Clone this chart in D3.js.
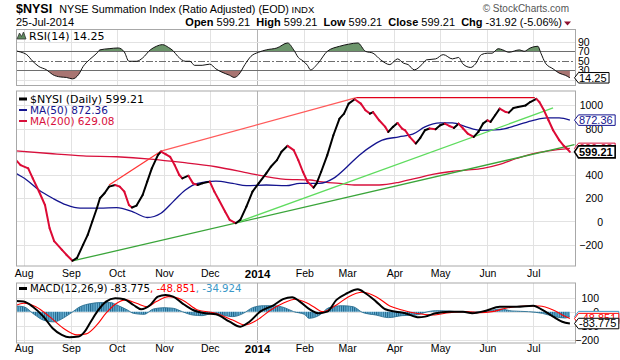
<!DOCTYPE html>
<html><head><meta charset="utf-8">
<script src="https://cdn.jsdelivr.net/npm/d3@7/dist/d3.min.js"></script>
<style>html,body{margin:0;padding:0;background:#fff;overflow:hidden}</style>
</head><body>
<svg id="chart" width="620" height="360"></svg>
<script>
// ---------------- DATA ----------------
const monthTicks = ["2013-08-01","2013-09-01","2013-10-01","2013-11-01","2013-12-01","2014-01-01","2014-02-01","2014-03-01","2014-04-01","2014-05-01","2014-06-01","2014-07-01"];
const monthLabels = ["Aug","Sep","Oct","Nov","Dec","2014","Feb","Mar","Apr","May","Jun","Jul"];
const mainTicks = [-200,0,200,400,600,800,1000];
const rsiTicks = [30,50,70,90];
const macdTicks = [100,0,-100,-200];

const nysi = [["2013-07-27",528],["2013-07-30",485],["2013-08-04",457],["2013-08-07",371],["2013-08-11",260],["2013-08-15",142],["2013-08-18",-57],["2013-08-21",-169],["2013-08-26",-243],["2013-08-29",-286],["2013-09-02",-338],["2013-09-05",-314],["2013-09-09",-200],["2013-09-12",-115],["2013-09-15",0],["2013-09-18",114],["2013-09-20",200],["2013-09-23",243],["2013-09-26",300],["2013-09-30",314],["2013-10-03",300],["2013-10-06",257],["2013-10-09",142],["2013-10-11",120],["2013-10-14",137],["2013-10-18",228],["2013-10-21",343],["2013-10-24",457],["2013-10-28",571],["2013-10-30",602],["2013-11-02",580],["2013-11-05",557],["2013-11-08",485],["2013-11-11",400],["2013-11-13",371],["2013-11-17",394],["2013-11-20",328],["2013-11-23",314],["2013-11-26",328],["2013-12-01",343],["2013-12-04",257],["2013-12-07",185],["2013-12-11",86],["2013-12-14",14],["2013-12-18",-15],["2013-12-21",14],["2013-12-25",128],["2013-12-29",257],["2014-01-02",328],["2014-01-07",414],["2014-01-10",471],["2014-01-14",528],["2014-01-17",600],["2014-01-21",651],["2014-01-25",614],["2014-01-28",528],["2014-01-31",428],["2014-02-03",343],["2014-02-07",291],["2014-02-09",328],["2014-02-12",428],["2014-02-16",571],["2014-02-20",742],["2014-02-24",885],["2014-02-27",928],["2014-03-02",1014],["2014-03-06",1052],["2014-03-10",1014],["2014-03-13",957],["2014-03-16",928],["2014-03-18",942],["2014-03-22",871],["2014-03-26",814],["2014-03-28",771],["2014-03-31",814],["2014-04-03",848],["2014-04-06",800],["2014-04-08",785],["2014-04-11",728],["2014-04-15",671],["2014-04-18",720],["2014-04-21",785],["2014-04-24",800],["2014-04-28",794],["2014-05-01",828],["2014-05-04",842],["2014-05-07",822],["2014-05-10",805],["2014-05-13",842],["2014-05-16",800],["2014-05-19",757],["2014-05-23",728],["2014-05-26",771],["2014-05-29",842],["2014-06-01",871],["2014-06-03",857],["2014-06-06",914],["2014-06-09",971],["2014-06-13",942],["2014-06-15",937],["2014-06-18",977],["2014-06-21",985],["2014-06-26",999],["2014-06-29",1028],["2014-07-03",1055],["2014-07-05",1028],["2014-07-08",957],["2014-07-11",871],["2014-07-14",785],["2014-07-18",700],["2014-07-21",651],["2014-07-23",628],["2014-07-25",599.21]];

const ma50 = [["2013-07-27",414],["2013-08-03",357],["2013-08-11",271],["2013-08-20",200],["2013-08-29",142],["2013-09-07",114],["2013-09-20",114],["2013-10-01",120],["2013-10-12",80],["2013-10-21",34],["2013-10-30",71],["2013-11-07",171],["2013-11-15",271],["2013-11-23",328],["2013-12-05",348],["2013-12-16",328],["2013-12-25",308],["2014-01-07",314],["2014-01-20",308],["2014-01-29",328],["2014-02-11",328],["2014-02-20",371],["2014-03-01",471],["2014-03-09",571],["2014-03-18",657],["2014-03-24",700],["2014-04-04",728],["2014-04-13",751],["2014-04-21",814],["2014-05-01",848],["2014-05-09",848],["2014-05-18",814],["2014-05-27",785],["2014-06-09",791],["2014-06-20",828],["2014-07-01",871],["2014-07-10",891],["2014-07-18",891],["2014-07-25",872.36]];

const ma200 = [["2013-07-27",608],["2013-08-18",585],["2013-09-09",565],["2013-10-01",557],["2013-10-23",537],["2013-11-13",508],["2013-12-05",471],["2013-12-27",414],["2014-01-07",386],["2014-01-18",365],["2014-02-05",357],["2014-02-11",343],["2014-02-24",328],["2014-03-07",314],["2014-03-22",314],["2014-04-04",337],["2014-04-15",371],["2014-04-26",405],["2014-05-07",428],["2014-05-18",442],["2014-05-29",457],["2014-06-09",491],["2014-06-20",542],["2014-07-01",585],["2014-07-11",608],["2014-07-25",629.08]];

const trendRed1 = [["2013-09-26",314],["2013-10-30",605]];
const trendRed2 = [["2013-10-30",605],["2014-03-07",1066]];
const trendRedFlat = [["2014-03-07",1066],["2014-07-02",1066]];
const trendGreenLow = [["2013-09-02",-340],["2014-07-28",662]];
const trendGreenHigh = [["2013-12-18",-12],["2014-07-14",977]];

const rsi = [["2013-07-27",71],["2013-07-30",68.5],["2013-08-03",63],["2013-08-07",49],["2013-08-11",38],["2013-08-16",31],["2013-08-20",21],["2013-08-25",16],["2013-08-29",15],["2013-09-02",12],["2013-09-06",21],["2013-09-09",38],["2013-09-13",52],["2013-09-18",66],["2013-09-20",73],["2013-09-26",75.5],["2013-10-02",77],["2013-10-06",68.5],["2013-10-09",49],["2013-10-14",49],["2013-10-18",56],["2013-10-23",73],["2013-10-27",80.5],["2013-10-31",84],["2013-11-04",78],["2013-11-07",71],["2013-11-10",59.5],["2013-11-15",49],["2013-11-18",49],["2013-11-21",40.5],["2013-11-26",40.5],["2013-12-01",43],["2013-12-05",33],["2013-12-09",26],["2013-12-14",19.5],["2013-12-17",15],["2013-12-20",21],["2013-12-24",42],["2013-12-28",59.5],["2014-01-02",68],["2014-01-07",73],["2014-01-14",77],["2014-01-21",87.5],["2014-01-25",73],["2014-01-28",57],["2014-01-31",50],["2014-02-03",40.5],["2014-02-05",31],["2014-02-10",45],["2014-02-16",70],["2014-02-24",80.5],["2014-03-02",85],["2014-03-08",87.5],["2014-03-13",70],["2014-03-18",66],["2014-03-23",52],["2014-03-29",42],["2014-04-03",54],["2014-04-07",45],["2014-04-10",42],["2014-04-14",31],["2014-04-19",42],["2014-04-22",52],["2014-04-28",54],["2014-05-03",63],["2014-05-09",54],["2014-05-13",57],["2014-05-16",43],["2014-05-21",36],["2014-05-24",43],["2014-05-28",63],["2014-06-01",66],["2014-06-04",66],["2014-06-08",75.5],["2014-06-11",73],["2014-06-15",68],["2014-06-22",73],["2014-06-25",70],["2014-06-29",77],["2014-07-04",80.5],["2014-07-06",66],["2014-07-09",45],["2014-07-14",33],["2014-07-18",24],["2014-07-22",19.5],["2014-07-25",14.25]];

const macd = [["2013-07-27",75],["2013-08-01",71],["2013-08-07",35],["2013-08-14",-35],["2013-08-20",-117],["2013-08-26",-164],["2013-08-31",-181],["2013-09-06",-176],["2013-09-10",-141],["2013-09-14",-71],["2013-09-19",12],["2013-09-24",71],["2013-09-30",95],["2013-10-06",88],["2013-10-12",47],["2013-10-17",17],["2013-10-23",47],["2013-10-28",106],["2013-11-02",118],["2013-11-07",106],["2013-11-13",59],["2013-11-20",12],["2013-11-28",-11],["2013-12-05",-18],["2013-12-14",-71],["2013-12-21",-106],["2013-12-27",-71],["2014-01-03",0],["2014-01-12",47],["2014-01-18",88],["2014-01-24",102],["2014-01-29",71],["2014-02-05",12],["2014-02-10",-11],["2014-02-16",0],["2014-02-22",83],["2014-03-01",130],["2014-03-08",158],["2014-03-13",130],["2014-03-20",71],["2014-03-26",17],["2014-04-02",0],["2014-04-08",-11],["2014-04-17",-40],["2014-04-21",-35],["2014-04-28",-11],["2014-05-07",0],["2014-05-16",0],["2014-05-22",-11],["2014-05-31",7],["2014-06-09",35],["2014-06-20",35],["2014-07-01",42],["2014-07-07",12],["2014-07-14",-35],["2014-07-20",-71],["2014-07-25",-83.775]];

const signal = [["2013-07-27",45],["2013-08-01",59],["2013-08-09",35],["2013-08-18",-35],["2013-08-27",-117],["2013-09-05",-164],["2013-09-11",-157],["2013-09-18",-94],["2013-09-24",-11],["2013-10-01",59],["2013-10-07",83],["2013-10-14",59],["2013-10-21",35],["2013-10-27",71],["2013-11-04",106],["2013-11-13",83],["2013-11-23",12],["2013-12-05",-11],["2013-12-16",-59],["2013-12-24",-94],["2014-01-01",-59],["2014-01-10",12],["2014-01-18",59],["2014-01-26",88],["2014-02-03",59],["2014-02-07",35],["2014-02-13",0],["2014-02-22",47],["2014-03-02",106],["2014-03-11",137],["2014-03-20",106],["2014-03-29",40],["2014-04-06",12],["2014-04-15",-11],["2014-04-26",-23],["2014-05-07",-7],["2014-05-18",0],["2014-05-27",-7],["2014-06-04",0],["2014-06-13",24],["2014-06-26",40],["2014-07-05",40],["2014-07-14",12],["2014-07-20",-23],["2014-07-25",-48.851]];

const hist = [["2013-07-27",40],["2013-08-01",35],["2013-08-08",-20],["2013-08-14",-60],["2013-08-21",-72],["2013-08-27",-45],["2013-09-01",-10],["2013-09-07",35],["2013-09-14",57],["2013-09-20",64],["2013-09-27",64],["2013-10-01",47],["2013-10-08",12],["2013-10-12",-12],["2013-10-19",-19],["2013-10-25",19],["2013-11-01",28],["2013-11-07",24],["2013-11-13",0],["2013-11-20",-24],["2013-11-26",-28],["2013-12-03",-12],["2013-12-09",-24],["2013-12-16",-35],["2013-12-23",-12],["2013-12-29",28],["2014-01-05",42],["2014-01-12",42],["2014-01-19",28],["2014-01-25",0],["2014-02-01",-19],["2014-02-04",-47],["2014-02-11",-24],["2014-02-17",28],["2014-02-26",42],["2014-03-05",35],["2014-03-11",-5],["2014-03-20",-24],["2014-03-28",-42],["2014-04-06",-28],["2014-04-15",-24],["2014-04-23",0],["2014-04-28",7],["2014-05-06",5],["2014-05-19",-5],["2014-06-01",5],["2014-06-10",19],["2014-06-17",5],["2014-06-28",0],["2014-07-07",-12],["2014-07-15",-35],["2014-07-22",-45],["2014-07-25",-34.924]];

// ---------------- SETUP ----------------
const parse = d3.timeParse("%Y-%m-%d");
const pts = arr => arr.map(d => ({date: parse(d[0]), v: d[1]}));
const svg = d3.select("#chart");
const defs = svg.append("defs");
const AX = "'Liberation Sans', Arial, sans-serif";
const LG = "'DejaVu Sans', Verdana, sans-serif";
const L = 16, R = 576;
const P = {rsi: [29.5, 85.5], main: [91, 266], macd: [283, 343]};

const X = d3.scaleTime().domain([parse("2013-07-27"), parse("2014-07-29")]).range([L, R]);
const yR = d3.scaleLinear().domain([30, 70]).range([70.3, 51.3]);
const yM = d3.scaleLinear().domain([-200, 1000]).range([244.7, 105.3]);
const yD = d3.scaleLinear().domain([-200, 100]).range([340, 297.5]);

svg.append("rect").attr("width", 620).attr("height", 360).attr("fill", "#fff");

function panel(name, yscale, hTicks) {
  const [t, b] = P[name];
  defs.append("clipPath").attr("id", "clip-" + name).append("rect")
    .attr("x", L).attr("y", t).attr("width", R - L).attr("height", b - t);
  const g = svg.append("g");
  g.selectAll(".vg").data(monthTicks).enter().append("line")
    .attr("x1", d => Math.round(X(parse(d))) + 0.5).attr("x2", d => Math.round(X(parse(d))) + 0.5)
    .attr("y1", t).attr("y2", b)
    .attr("stroke", (d, i) => monthLabels[i] === "2014" ? "#b4b4b4" : "#e2e2e2").attr("stroke-width", 1);
  g.selectAll(".hg").data(hTicks).enter().append("line")
    .attr("x1", L).attr("x2", R)
    .attr("y1", d => Math.round(yscale(d)) + 0.5).attr("y2", d => Math.round(yscale(d)) + 0.5)
    .attr("stroke", "#e2e2e2");
  const inner = svg.append("g").attr("clip-path", `url(#clip-${name})`);
  return {g, inner, t, b};
}

// ---------------- HEADER ----------------
const title = svg.append("text").attr("x", 16).attr("y", 12.5).attr("font-family", AX).attr("xml:space", "preserve");
title.append("tspan").attr("font-size", 12.5).attr("font-weight", "bold").text("$NYSI");
title.append("tspan").attr("font-size", 10.8).attr("dx", 4).text(" NYSE Summation Index (Ratio Adjusted) (EOD)");
title.append("tspan").attr("font-size", 9.5).text(" INDX");
svg.append("text").attr("x", 569).attr("y", 11.5).attr("text-anchor", "end").attr("font-family", AX)
  .attr("font-size", 10).attr("fill", "#555").text("\u00A9 StockCharts.com");
svg.append("text").attr("x", 16).attr("y", 26).attr("font-family", AX).attr("font-size", 11).text("25-Jul-2014");
const ohlc = [["Open", "599.21"], ["High", "599.21"], ["Low", "599.21"], ["Close", "599.21"], ["Chg", "-31.92 (-5.06%)"]];
const oh = svg.append("text").attr("x", 562).attr("y", 26).attr("text-anchor", "end").attr("font-family", AX)
  .attr("font-size", 11).attr("xml:space", "preserve").style("white-space", "pre");
ohlc.forEach(([lab, val], i) => {
  oh.append("tspan").attr("font-weight", "bold").text((i ? "  " : "") + lab);
  oh.append("tspan").text(" " + val);
});
svg.append("path").attr("d", "M564,21.5 L571,21.5 L567.5,25.5 Z").attr("fill", "#8b1030");

// ---------------- RSI PANEL ----------------
const rsiP = panel("rsi", yR, [10, 90]);
const rsiPts = pts(rsi);
defs.append("clipPath").attr("id", "rsiTop").append("rect").attr("x", L).attr("y", rsiP.t).attr("width", R - L).attr("height", yR(70) - rsiP.t);
defs.append("clipPath").attr("id", "rsiBot").append("rect").attr("x", L).attr("y", yR(30)).attr("width", R - L).attr("height", rsiP.b - yR(30));
rsiP.inner.append("path").datum(rsiPts).attr("clip-path", "url(#rsiTop)")
  .attr("d", d3.area().x(d => X(d.date)).y0(yR(70)).y1(d => yR(d.v)).curve(d3.curveMonotoneX))
  .attr("fill", "#6c956b");
rsiP.inner.append("path").datum(rsiPts).attr("clip-path", "url(#rsiBot)")
  .attr("d", d3.area().x(d => X(d.date)).y0(yR(30)).y1(d => yR(d.v)).curve(d3.curveMonotoneX))
  .attr("fill", "#a87572");
[70, 30].forEach(v => rsiP.inner.append("line").attr("x1", L).attr("x2", R)
  .attr("y1", Math.round(yR(v)) + 0.5).attr("y2", Math.round(yR(v)) + 0.5).attr("stroke", "#6e6e6e"));
rsiP.inner.append("line").attr("x1", L).attr("x2", R).attr("y1", Math.round(yR(50)) + 0.5).attr("y2", Math.round(yR(50)) + 0.5)
  .attr("stroke", "#6e6e6e").attr("stroke-dasharray", "7,2,2,2");
rsiP.inner.append("path").datum(rsiPts)
  .attr("d", d3.line().x(d => X(d.date)).y(d => yR(d.v)).curve(d3.curveMonotoneX))
  .attr("fill", "none").attr("stroke", "#111").attr("stroke-width", 1);
svg.append("rect").attr("x", L + 0.5).attr("y", rsiP.t).attr("width", R - L - 1).attr("height", rsiP.b - rsiP.t)
  .attr("fill", "none").attr("stroke", "#a8a8a8");
const rsiAx = svg.append("g").attr("transform", `translate(${R},0)`)
  .call(d3.axisRight(yR).tickValues(rsiTicks).tickSize(0).tickPadding(2));
rsiAx.select(".domain").remove();
rsiAx.selectAll("text").attr("font-family", AX).attr("font-size", 10.5).attr("fill", "#000").attr("dy", "0.35em");
svg.append("path").attr("d", "M17,39 L19.5,33 L21.5,36.5 L23.5,32 L26,39 Z").attr("fill", "#5f8a5f").attr("stroke", "#333").attr("stroke-width", 0.8);
svg.append("text").attr("x", 29).attr("y", 40).attr("font-family", LG).attr("font-size", 11)
  .text(`RSI(14) ${rsi[rsi.length - 1][1].toFixed(2)}`);

// ---------------- MAIN PANEL ----------------
const mP = panel("main", yM, mainTicks);
const lineGen = d3.line().x(d => X(d.date)).y(d => yM(d.v)).curve(d3.curveMonotoneX);
mP.inner.append("path").datum(pts(ma200)).attr("d", lineGen).attr("fill", "none").attr("stroke", "#d8103c").attr("stroke-width", 1.3);
mP.inner.append("path").datum(pts(ma50)).attr("d", lineGen).attr("fill", "none").attr("stroke", "#14148f").attr("stroke-width", 1.3);
const straight = d3.line().x(d => X(d.date)).y(d => yM(d.v));
[[trendGreenLow, "#3aa53a"], [trendGreenHigh, "#5fdc5f"], [trendRed1, "#ff3535"], [trendRed2, "#ff5a5a"], [trendRedFlat, "#e0001a"]]
  .forEach(([arr, c]) => mP.inner.append("path").datum(pts(arr)).attr("d", straight)
    .attr("fill", "none").attr("stroke", c).attr("stroke-width", 1.3));
const nP = pts(nysi);
for (let i = 0; i < nP.length - 1; i++) {
  const up = nP[i + 1].v >= nP[i].v;
  mP.inner.append("path").datum([nP[i], nP[i + 1]]).attr("d", straight)
    .attr("fill", "none").attr("stroke", up ? "#000" : "#dc0a35").attr("stroke-width", 2)
    .attr("stroke-linecap", "round");
}
svg.append("rect").attr("x", L + 0.5).attr("y", mP.t).attr("width", R - L - 1).attr("height", mP.b - mP.t)
  .attr("fill", "none").attr("stroke", "#a8a8a8");
const mAx = svg.append("g").attr("transform", `translate(${R},0)`)
  .call(d3.axisRight(yM).tickValues(mainTicks).tickSize(0).tickFormat(d3.format("d")));
mAx.select(".domain").remove();
mAx.selectAll("text").attr("x", 27).attr("text-anchor", "end").attr("font-family", AX).attr("font-size", 10.5).attr("fill", "#000").attr("dy", "0.35em");
const lg = [[`$NYSI (Daily) ${nysi[nysi.length - 1][1].toFixed(2)}`, "#000", 3], [`MA(50) ${ma50[ma50.length - 1][1].toFixed(2)}`, "#14148f", 2], [`MA(200) ${ma200[ma200.length - 1][1].toFixed(2)}`, "#d8103c", 2]];
lg.forEach(([txt, c, w], i) => {
  const y = 102.5 + i * 11;
  svg.append("line").attr("x1", 19).attr("x2", 27).attr("y1", y - 3.5).attr("y2", y - 3.5).attr("stroke", c).attr("stroke-width", w);
  svg.append("text").attr("x", 30).attr("y", y).attr("font-family", LG).attr("font-size", i === 0 ? 11 : 10.5).attr("fill", c).text(txt);
});

// ---------------- MACD PANEL ----------------
const dP = panel("macd", yD, macdTicks);
const pat = defs.append("pattern").attr("id", "hatch").attr("patternUnits", "userSpaceOnUse").attr("width", 2.2).attr("height", 20);
pat.append("rect").attr("width", 2.2).attr("height", 20).attr("fill", "#6cb4d8");
pat.append("rect").attr("width", 1).attr("height", 20).attr("fill", "#1e6489");
const hP = pts(hist);
dP.inner.append("path").datum(hP)
  .attr("d", d3.area().x(d => X(d.date)).y0(yD(0)).y1(d => yD(d.v)).curve(d3.curveMonotoneX))
  .attr("fill", "url(#hatch)");
dP.inner.append("path").datum(hP)
  .attr("d", d3.line().x(d => X(d.date)).y(d => yD(d.v)).curve(d3.curveMonotoneX))
  .attr("fill", "none").attr("stroke", "#2a6f92").attr("stroke-width", 0.9);
const dLine = d3.line().x(d => X(d.date)).y(d => yD(d.v)).curve(d3.curveMonotoneX);
dP.inner.append("path").datum(pts(signal)).attr("d", dLine).attr("fill", "none").attr("stroke", "#ff0000").attr("stroke-width", 1.1);
dP.inner.append("path").datum(pts(macd)).attr("d", dLine).attr("fill", "none").attr("stroke", "#000").attr("stroke-width", 2);
svg.append("rect").attr("x", L + 0.5).attr("y", dP.t).attr("width", R - L - 1).attr("height", dP.b - dP.t)
  .attr("fill", "none").attr("stroke", "#a8a8a8");
const dAx = svg.append("g").attr("transform", `translate(${R},0)`)
  .call(d3.axisRight(yD).tickValues(macdTicks).tickSize(0).tickFormat(d3.format("d")));
dAx.select(".domain").remove();
dAx.selectAll("text").attr("x", 23).attr("text-anchor", "end").attr("font-family", AX).attr("font-size", 10.5).attr("fill", "#000").attr("dy", "0.35em");
svg.append("line").attr("x1", 19).attr("x2", 27).attr("y1", 288.5).attr("y2", 288.5).attr("stroke", "#000").attr("stroke-width", 3);
const mt = svg.append("text").attr("x", 30).attr("y", 292).attr("font-family", LG).attr("font-size", 10.2);
mt.append("tspan").attr("fill", "#000").text(`MACD(12,26,9) ${macd[macd.length - 1][1].toFixed(3)}`);
mt.append("tspan").attr("fill", "#ff0000").text(`, ${signal[signal.length - 1][1].toFixed(3)}`);
mt.append("tspan").attr("fill", "#3a98c8").text(`, ${hist[hist.length - 1][1].toFixed(3)}`);

// ---------------- MONTH AXES ----------------
[278.5, 354].forEach(y => {
  const ax = svg.append("g").attr("transform", `translate(0,${y - 9})`)
    .call(d3.axisBottom(X).tickValues(monthTicks.map(parse)).tickSize(0).tickPadding(0)
      .tickFormat((d, i) => monthLabels[i]));
  ax.select(".domain").remove();
  ax.selectAll("text").attr("font-family", AX).attr("fill", "#000").attr("dy", "0.71em")
    .attr("font-weight", (d, i) => monthLabels[i] === "2014" ? "bold" : null)
    .attr("font-size", (d, i) => monthLabels[i] === "2014" ? 11.5 : 10.5);
});

// ---------------- VALUE TAGS ----------------
function tag(y, txt, color, bold) {
  const x = R - 1.5;
  const g = svg.append("g");
  const t = g.append("text").attr("x", x + 4.5).attr("y", y + 3.9).attr("font-family", AX).attr("font-size", 11)
    .attr("fill", color).attr("font-weight", bold ? "bold" : null).text(txt);
  const w = t.node().getComputedTextLength() + 7;
  const h = bold ? 12 : 10.5;
  g.insert("path", "text").attr("d", `M${x},${y} L${x + 4},${y - h / 2} L${x + w},${y - h / 2} L${x + w},${y + h / 2} L${x + 4},${y + h / 2} Z`)
    .attr("fill", "#fff").attr("stroke", color).attr("stroke-width", bold ? 1.6 : 1);
}
const last = a => a[a.length - 1][1];
tag(yR(last(rsi)), last(rsi).toFixed(2), "#000", false);
tag(yM(last(ma50)), last(ma50).toFixed(2), "#14148f", false);
tag(yM(last(ma200)), last(ma200).toFixed(2), "#d8103c", false);
tag(yM(last(nysi)), last(nysi).toFixed(2), "#000", true);
tag(yD(last(hist)), last(hist).toFixed(3), "#3a98c8", false);
tag(yD(last(signal)), last(signal).toFixed(3), "#ff0000", false);
tag(yD(last(macd)), last(macd).toFixed(3), "#000", false);
</script>
</body></html>
